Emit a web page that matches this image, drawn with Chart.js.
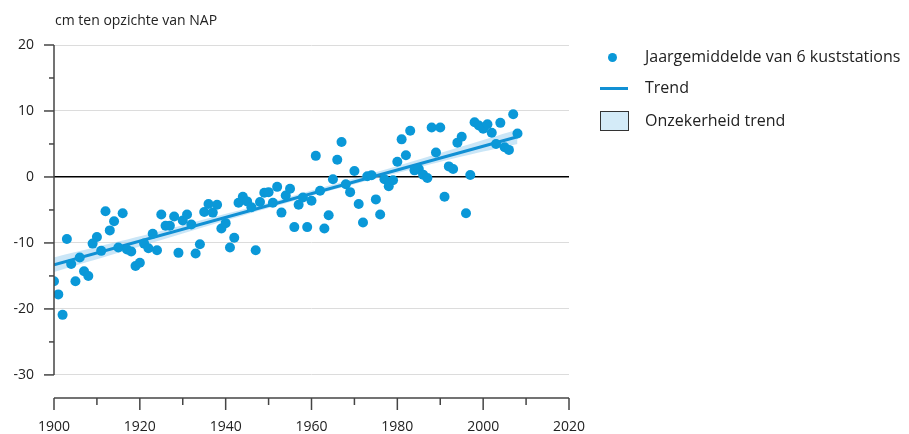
<!DOCTYPE html>
<html>
<head>
<meta charset="utf-8">
<script src="https://cdn.jsdelivr.net/npm/chart.js@4"></script>
<style>
  html, body { margin: 0; padding: 0; background: #fff; }
  #wrap { position: relative; width: 909px; height: 434px; font-family: "Open Sans", sans-serif; color: #222; }
  #title { position: absolute; left: 55px; top: 10px; font-size: 14px; }
  .leg { position: absolute; left: 600px; font-size: 16px; }
  .leg span { position: absolute; left: 45px; white-space: nowrap; top: -12px; }
  .dot { position: absolute; left: 8px; top: -4px; width: 9px; height: 9px; border-radius: 50%; background: #0a98d8; }
  .line { position: absolute; left: 0; top: -1px; width: 28px; height: 3px; background: #1190d4; }
  .box { position: absolute; left: 0; top: -10px; width: 27px; height: 18px; border: 1px solid #333; background: #d4ebf8; }
</style>
</head>
<body>
<div id="wrap">
  <canvas id="c" width="909" height="434"></canvas>
  <div id="title">cm ten opzichte van NAP</div>
  <div class="leg" style="top:57px"><div class="dot"></div><span>Jaargemiddelde van 6 kuststations</span></div>
  <div class="leg" style="top:88px"><div class="line"></div><span>Trend</span></div>
  <div class="leg" style="top:121px"><div class="box"></div><span>Onzekerheid trend</span></div>
</div>
<script>
// jaren en jaargemiddelden (cm t.o.v. NAP)
const years = [];
for (let y = 1900; y <= 2008; y++) years.push(y);
const levels = [
  -15.8, -17.8, -20.9, -9.4, -13.2, -15.8, -12.2, -14.3, -15.0, -10.1,
  -9.1, -11.2, -5.2, -8.1, -6.7, -10.7, -5.5, -11.0, -11.3, -13.5,
  -13.0, -10.1, -10.8, -8.6, -11.1, -5.7, -7.4, -7.4, -6.0, -11.5,
  -6.6, -5.7, -7.2, -11.6, -10.2, -5.3, -4.1, -5.4, -4.2, -7.8,
  -7.0, -10.7, -9.2, -3.9, -3.0, -3.7, -4.6, -11.1, -3.8, -2.4,
  -2.3, -3.9, -1.5, -5.4, -2.8, -1.8, -7.6, -4.2, -3.1, -7.6,
  -3.6, 3.2, -2.1, -7.8, -5.8, -0.35, 2.6, 5.3, -1.1, -2.3,
  0.9, -4.1, -6.9, 0.1, 0.25, -3.4, -5.7, -0.35, -1.4, -0.5,
  2.3, 5.7, 3.3, 7.0, 1.0, 1.2, 0.35, -0.15, 7.5, 3.7,
  7.5, -3.0, 1.6, 1.2, 5.2, 6.1, -5.5, 0.3, 8.3, 7.8,
  7.3, 8.0, 6.7, 5.0, 8.2, 4.5, 4.1, 9.5, 6.6
];

// trend en onzekerheidsband
const trendYears = [1900, 2008];
const trendValues = [-13.3, 6.1];
const bandYears = [1900, 1915, 1930, 1945, 1955, 1965, 1980, 1995, 2008];
const bandUpper = [-12.2, -9.8, -7.3, -4.75, -2.98, -1.15, 1.65, 4.6, 7.2];
const bandLower = [-14.4, -11.5, -8.55, -5.65, -3.8, -1.95, 0.6, 3.1, 5.0];

// as-indeling
const xTickValues = [1900, 1910, 1920, 1930, 1940, 1950, 1960, 1970, 1980, 1990, 2000, 2010, 2020];
const yTickValues = [-30, -25, -20, -15, -10, -5, 0, 5, 10, 15, 20];

const pts = (xs, ys) => xs.map((x, i) => ({ x: x, y: ys[i] }));

// eigen aslijnen en tickstreepjes
const axisDecor = {
  id: 'axisDecor',
  afterDatasetsDraw(chart) {
    const { ctx, scales: { x, y }, chartArea } = chart;
    const x0 = x.getPixelForValue(1900);
    ctx.save();
    ctx.strokeStyle = '#444';
    ctx.lineWidth = 1.5;
    const seg = (a, b, c, d) => { ctx.beginPath(); ctx.moveTo(a, b); ctx.lineTo(c, d); ctx.stroke(); };
    seg(x0, y.getPixelForValue(20), x0, y.getPixelForValue(-30));
    yTickValues.forEach(v => {
      const py = y.getPixelForValue(v);
      seg(x0 - (v % 10 === 0 ? 10 : 5), py, x0, py);
    });
    const yb = chartArea.bottom;
    seg(x0, yb, x.getPixelForValue(2020), yb);
    xTickValues.forEach(v => {
      const px = x.getPixelForValue(v);
      seg(px, yb, px, yb + (v % 20 === 0 ? 12 : 7));
    });
    ctx.restore();
  }
};

new Chart(document.getElementById('c'), {
  type: 'scatter',
  data: {
    datasets: [
      {
        label: 'Jaargemiddelde van 6 kuststations',
        data: pts(years, levels),
        backgroundColor: '#0a98d8',
        borderWidth: 0,
        pointRadius: 5,
        order: 0
      },
      {
        type: 'line',
        label: 'Trend',
        data: pts(trendYears, trendValues),
        borderColor: '#1190d4',
        borderWidth: 3,
        pointRadius: 0,
        order: 1
      },
      {
        type: 'line',
        label: 'boven',
        data: pts(bandYears, bandUpper),
        borderWidth: 0,
        pointRadius: 0,
        tension: 0.4,
        backgroundColor: 'rgba(150,205,240,0.5)',
        fill: '+1',
        order: 2
      },
      {
        type: 'line',
        label: 'onder',
        data: pts(bandYears, bandLower),
        borderWidth: 0,
        pointRadius: 0,
        tension: 0.4,
        fill: false,
        order: 2
      }
    ]
  },
  options: {
    responsive: false,
    animation: false,
    layout: { padding: { top: 45, right: 340, left: 0, bottom: 0 } },
    plugins: { legend: { display: false }, tooltip: { enabled: false } },
    scales: {
      x: {
        type: 'linear',
        min: 1900,
        max: 2020,
        afterFit: s => { s.height = 36; },
        afterBuildTicks: s => { s.ticks = xTickValues.map(v => ({ value: v })); },
        grid: { display: false },
        border: { display: false },
        ticks: {
          padding: 13,
          maxRotation: 0,
          autoSkip: false,
          color: '#222',
          font: { family: 'Open Sans', size: 14 },
          callback: v => (v % 20 === 0 ? String(v) : '')
        }
      },
      y: {
        min: -33.5,
        max: 20,
        afterFit: s => { s.width = 54; },
        afterBuildTicks: s => { s.ticks = yTickValues.map(v => ({ value: v })); },
        grid: {
          drawTicks: false,
          color: c => (c.tick.value === 0 ? '#000' : (c.tick.value % 10 === 0 ? '#dcdcdc' : 'rgba(0,0,0,0)')),
          lineWidth: c => (c.tick.value === 0 ? 1.5 : 1)
        },
        border: { display: false },
        ticks: {
          padding: 20,
          autoSkip: false,
          color: '#222',
          font: { family: 'Open Sans', size: 14 },
          callback: v => (v % 10 === 0 ? String(v) : '')
        }
      }
    }
  },
  plugins: [axisDecor]
});
</script>
</body>
</html>
